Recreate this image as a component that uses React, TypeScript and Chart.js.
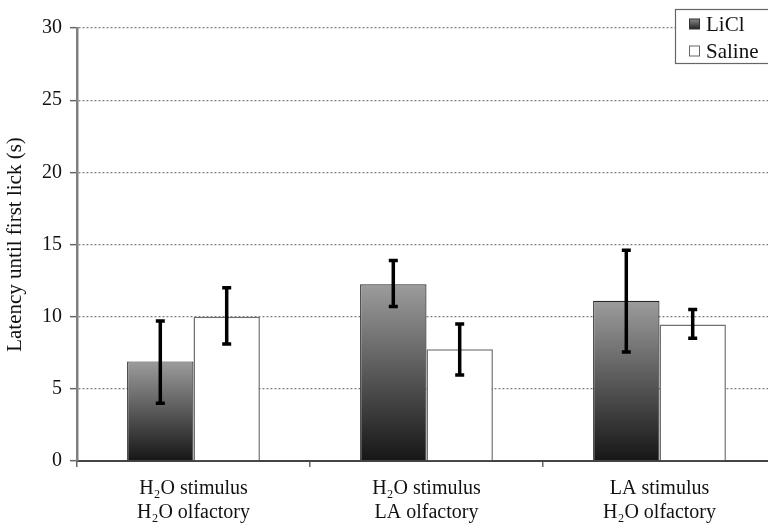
import React, { useEffect, useRef } from "react";
import { Chart, registerables } from "chart.js";

Chart.register(...registerables);

const categories: string[][] = [
  ["H₂O stimulus", "H₂O olfactory"],
  ["H₂O stimulus", "LA olfactory"],
  ["LA stimulus", "H₂O olfactory"],
];
const seriesNames = ["LiCl", "Saline"];
const liclMean = [6.9, 12.25, 11.1];
const liclLow = [4.0, 10.7, 7.55];
const liclHigh = [9.7, 13.9, 14.6];
const salineMean = [10.0, 7.75, 9.45];
const salineLow = [8.1, 5.95, 8.5];
const salineHigh = [12.0, 9.5, 10.5];
const yTicks = [0, 5, 10, 15, 20, 25, 30];
const yTitle = "Latency until first lick (s)";

const FONT = "'Liberation Serif', 'DejaVu Serif', serif";

function barGradient(ctx: any) {
  const chart = ctx.chart;
  const area = chart.chartArea;
  if (!area || ctx.raw === undefined) return "#555";
  const y = chart.scales.y;
  const top = y.getPixelForValue(ctx.raw);
  const bot = y.getPixelForValue(0);
  const g = chart.ctx.createLinearGradient(0, top, 0, bot);
  g.addColorStop(0, "#9c9c9c");
  g.addColorStop(1, "#161616");
  return g;
}

const errorBars = {
  id: "errorBars",
  afterDatasetsDraw(chart: any) {
    const ctx = chart.ctx;
    const y = chart.scales.y;
    const lows = [liclLow, salineLow];
    const highs = [liclHigh, salineHigh];
    ctx.save();
    ctx.strokeStyle = "#000";
    ctx.lineWidth = 3.5;
    ctx.lineCap = "butt";
    chart.data.datasets.forEach((_: any, di: number) => {
      const meta = chart.getDatasetMeta(di);
      meta.data.forEach((bar: any, i: number) => {
        const x = bar.x;
        const yl = y.getPixelForValue(lows[di][i]);
        const yh = y.getPixelForValue(highs[di][i]);
        ctx.beginPath();
        ctx.moveTo(x, yl);
        ctx.lineTo(x, yh);
        ctx.stroke();
        ctx.beginPath();
        ctx.moveTo(x - 4.5, yl);
        ctx.lineTo(x + 4.5, yl);
        ctx.moveTo(x - 4.5, yh);
        ctx.lineTo(x + 4.5, yh);
        ctx.stroke();
      });
    });
    ctx.restore();
  },
};

const boxLegend = {
  id: "boxLegend",
  afterDraw(chart: any) {
    const ctx = chart.ctx;
    const bx = 675.5, by = 9.5, bw = 130, bh = 54;
    ctx.save();
    ctx.fillStyle = "#fff";
    ctx.fillRect(bx, by, bw, bh);
    ctx.strokeStyle = "#666";
    ctx.lineWidth = 1.2;
    ctx.strokeRect(bx, by, bw, bh);
    const rows = [24, 51];
    rows.forEach((cy, i) => {
      const sx = 689.5, s = 10;
      if (i === 0) {
        const g = ctx.createLinearGradient(0, cy - s / 2, 0, cy + s / 2);
        g.addColorStop(0, "#8a8a8a");
        g.addColorStop(1, "#222");
        ctx.fillStyle = g;
        ctx.fillRect(sx, cy - s / 2, s, s);
        ctx.strokeStyle = "#333";
      } else {
        ctx.fillStyle = "#fff";
        ctx.fillRect(sx, cy - s / 2, s, s);
        ctx.strokeStyle = "#666";
      }
      ctx.lineWidth = 1;
      ctx.strokeRect(sx, cy - s / 2, s, s);
      ctx.fillStyle = "#111";
      ctx.font = "21px " + FONT;
      ctx.textBaseline = "middle";
      ctx.textAlign = "left";
      ctx.fillText(seriesNames[i], 706, cy + 1);
    });
    ctx.restore();
  },
};

export default function App() {
  const ref = useRef<HTMLCanvasElement>(null);
  useEffect(() => {
    const chart = new Chart(ref.current!, {
      type: "bar",
      data: {
        labels: categories,
        datasets: [
          {
            label: seriesNames[0],
            data: liclMean,
            backgroundColor: barGradient,
            borderColor: "#2a2a2a",
            borderWidth: 1.2,
            barPercentage: 1,
            categoryPercentage: 0.57,
          },
          {
            label: seriesNames[1],
            data: salineMean,
            backgroundColor: "#ffffff",
            borderColor: "#707070",
            borderWidth: 1.5,
            barPercentage: 1,
            categoryPercentage: 0.57,
          },
        ],
      },
      options: {
        animation: false,
        responsive: true,
        maintainAspectRatio: false,
        layout: { padding: { top: 28, right: 0, left: 0, bottom: 0 } },
        plugins: { legend: { display: false }, tooltip: { enabled: false } },
        scales: {
          x: {
            grid: {
              drawOnChartArea: false,
              drawTicks: true,
              tickLength: 6,
              color: "#666",
              lineWidth: 1.5,
              offset: true,
            },
            border: { display: true, color: "#444", width: 2 },
            ticks: {
              color: "#111",
              font: { family: FONT, size: 20 },
              padding: 10,
              maxRotation: 0,
            },
            afterFit(scale: any) {
              scale.height = 69;
            },
          },
          y: {
            min: 0,
            max: 30,
            afterBuildTicks(scale: any) {
              scale.ticks = yTicks.map((v) => ({ value: v }));
            },
            grid: {
              color: (c: any) => (c.tick && c.tick.value === 0 ? "rgba(0,0,0,0)" : "#808080"),
              tickColor: "#666",
              tickBorderDash: [],
              tickLength: 7,
              lineWidth: 1.3,
              tickWidth: 1.5,
            },
            border: { display: true, color: "#808080", width: 2.5, dash: [2, 2] },
            ticks: {
              color: "#111",
              font: { family: FONT, size: 20 },
              padding: 8,
            },
            title: {
              display: true,
              text: yTitle,
              color: "#111",
              font: { family: FONT, size: 21 },
              padding: { top: 3, bottom: 4 },
            },
            afterFit(scale: any) {
              scale.width = 77;
            },
          },
        },
      },
      plugins: [errorBars, boxLegend],
    });
    return () => chart.destroy();
  }, []);
  return (
    <div style={{ position: "absolute", left: 0, top: 0, width: 768, height: 530, overflow: "hidden", background: "#fff" }}>
      <div style={{ position: "relative", width: 776, height: 530 }}>
        <canvas ref={ref} />
      </div>
    </div>
  );
}
